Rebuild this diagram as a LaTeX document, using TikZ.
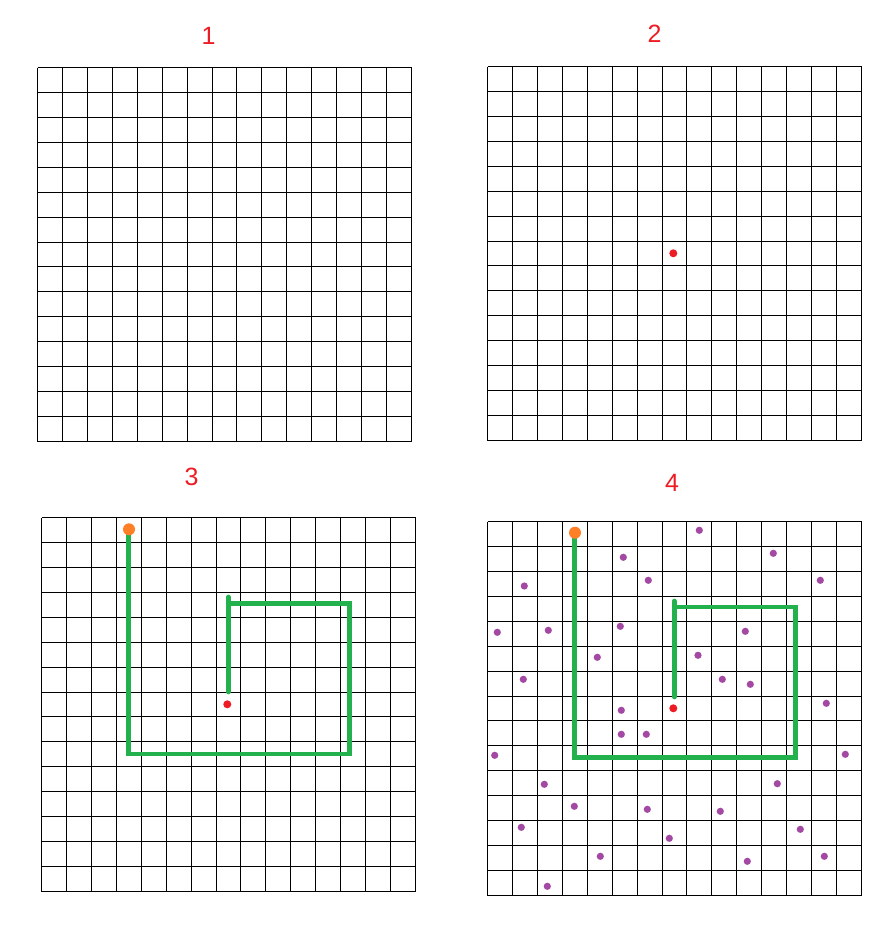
\documentclass[tikz,border=0pt]{standalone}
\usepackage{fontspec}
\setmainfont{Liberation Sans}
\definecolor{pred}{RGB}{237,28,36}
\definecolor{pgreen}{RGB}{34,177,76}
\definecolor{porange}{RGB}{255,127,39}
\definecolor{ppurple}{RGB}{163,73,164}
\tikzset{
  gridline/.style={draw=black, line width=1.2bp},
  pathline/.style={draw=pgreen, line width=4.6bp, line join=miter},
  label/.style={text=pred, font=\fontsize{25bp}{25bp}\selectfont, inner sep=0pt},
  reddot/.style={fill=pred},
  orangedot/.style={fill=porange},
  purpledot/.style={fill=ppurple}
}
\newcommand\mygrid[2]{%
  \foreach \i in {0,...,15}{%
    \pgfmathsetmacro\gx{round(#1+\i*24.933)+0.5}%
    \pgfmathsetmacro\gy{round(#2+\i*24.933)+0.5}%
    \pgfmathsetmacro\gxa{round(#1)+0.5}%
    \pgfmathsetmacro\gxb{round(#1+374)+0.5}%
    \pgfmathsetmacro\gya{round(#2)+0.5}%
    \pgfmathsetmacro\gyb{round(#2+374)+0.5}%
    \draw[gridline] (\gx,\gya) -- (\gx,\gyb);
    \draw[gridline] (\gxa,\gy) -- (\gxb,\gy);
  }}
\begin{document}
\begin{tikzpicture}[x=1bp,y=-1bp]
\useasboundingbox (0,0) rectangle (895,944);
\fill[white] (0,0) rectangle (895,944);

% labels
\node[label] (l1) at (208.5,36) {1};
\node[label] (l2) at (654.5,34) {2};
\node[label] (l3) at (191.7,477) {3};
\node[label] (l4) at (672,482.5) {4};

% grids
\mygrid{37}{67}
\mygrid{487}{66}
\mygrid{41}{517}
\mygrid{487}{521}

% panel 2
\fill[reddot] (673.3,253.3) circle (4);

% panel 3
\draw[pathline] (128.3,529) -- (128.3,754) -- (349.3,754) -- (349.3,603.3) -- (228.3,603.3);
\draw[pathline, line cap=round] (228.3,597) -- (228.3,692);
\fill[reddot] (227.3,704.3) circle (4);
\fill[orangedot] (129,529.3) circle (6);

% panel 4
\draw[pathline] (574.3,532.7) -- (574.3,757.7) -- (795.7,757.7) -- (795.7,607) -- (674.3,607);
\draw[pathline, line cap=round] (674.3,601) -- (674.3,697);
\fill[reddot] (673.3,708.3) circle (4);
\fill[orangedot] (575,532.7) circle (6);
\foreach \x/\y in {699.3/530.3, 623.3/557.3, 773.3/553.3, 524.3/586, 648.3/580.3,
  820.3/580.3, 497.3/632.3, 548.3/630.3, 620.3/626.3, 745.3/631.3, 597.3/657.3,
  698/655.3, 523.3/679.3, 722.3/679.3, 750.3/684.3, 826.3/703.3, 621.3/710.3,
  621.3/734.3, 646.3/734.3, 494.7/755.3, 845.3/754.3, 544.3/784.3, 777.3/783.7,
  574.3/806.3, 647.3/809.3, 720.3/811.3, 521.3/827.3, 800.3/829.3, 669.3/838.3,
  600.3/856.3, 747.3/861.3, 824.3/856.3, 547.3/886.3}
  \fill[purpledot] (\x,\y) circle (3.6);
\end{tikzpicture}
\end{document}
